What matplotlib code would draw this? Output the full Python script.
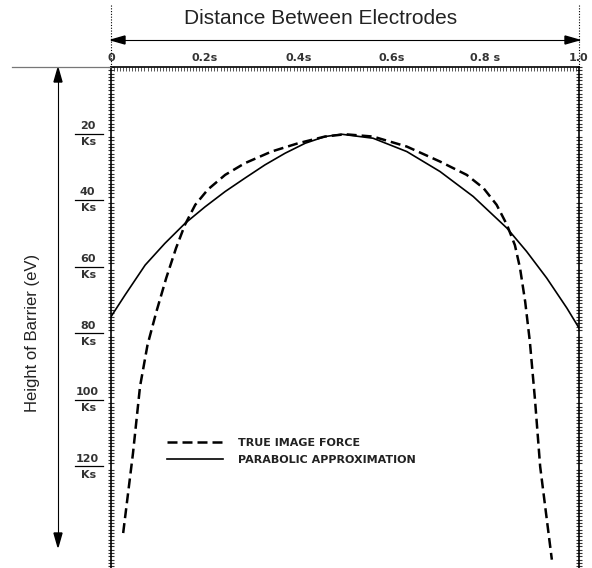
import matplotlib
matplotlib.use("Agg")
import matplotlib.pyplot as plt
from matplotlib.lines import Line2D
from matplotlib.ticker import MultipleLocator


# distance between electrodes (fraction of s) and barrier height (units of 1/Ks)
X_TRUE = [0.026, 0.047, 0.062, 0.078, 0.097, 0.118, 0.139, 0.158, 0.18,
          0.207, 0.244, 0.286, 0.343, 0.4, 0.457, 0.5, 0.56, 0.632,
          0.703, 0.76, 0.796, 0.824, 0.846, 0.863, 0.874, 0.885, 0.895,
          0.906, 0.917, 0.942]
V_TRUE = [140, 116, 96, 83.5, 73.5, 63.4, 54.4, 47.4, 41.4,
          36.8, 32.4, 28.9, 25.4, 22.9, 20.9, 20.2, 20.9, 23.9,
          28.4, 32.4, 36.4, 41.4, 47.4, 53.5, 60.4, 70.5, 82.5,
          100, 120, 148]

X_PARA = [0, 0.03, 0.073, 0.115, 0.158, 0.201, 0.244, 0.286, 0.329,
          0.372, 0.415, 0.457, 0.493, 0.56, 0.632, 0.703, 0.774, 0.846,
          0.888, 0.931, 0.974, 1.0]
V_PARA = [75, 68.5, 59.5, 53, 47, 42, 37.4, 33.4, 29.4,
          25.9, 22.9, 20.9, 20.2, 21.4, 25.4, 31.4, 38.9, 48.4,
          55.4, 63.4, 72.4, 78.4]

X_TICKS = [0, 0.2, 0.4, 0.6, 0.8, 1.0]
X_LABELS = ["0", "0.2s", "0.4s", "0.6s", "0.8 s", "1.0"]
Y_TICKS = [20, 40, 60, 80, 100, 120]

W, H = 592, 568


def fx(px):
    return px / W


def fy(py):
    return 1 - py / H


def main():
    fig = plt.figure(figsize=(W / 100, H / 100), dpi=100)
    ax = fig.add_axes([fx(111), 0, fx(579) - fx(111), fy(67)])
    ax.set_xlim(0, 1)
    ax.set_ylim(150.5, 0)

    ax.plot(X_TRUE, V_TRUE, color="black", lw=1.8, dashes=(4, 2),
            label="TRUE IMAGE FORCE")
    ax.plot(X_PARA, V_PARA, color="black", lw=1.2,
            label="PARABOLIC APPROXIMATION")

    # spines with hatched look
    ax.spines["bottom"].set_visible(False)
    for s in ("left", "right", "top"):
        ax.spines[s].set_linewidth(1.2)
    ax.xaxis.tick_top()
    ax.set_xticks(X_TICKS)
    ax.set_xticklabels(X_LABELS, fontsize=8, fontweight="bold", color="#333333")
    ax.xaxis.set_minor_locator(MultipleLocator(0.0065))
    ax.tick_params(axis="x", which="major", length=0, pad=3)
    ax.tick_params(axis="x", which="minor", direction="in", length=3,
                   width=0.7, color="#555555")
    ax.yaxis.set_ticks_position("both")
    ax.set_yticks(Y_TICKS)
    ax.set_yticklabels([])
    ax.yaxis.set_minor_locator(MultipleLocator(1.0))
    ax.tick_params(axis="y", which="major", length=0)
    ax.tick_params(axis="y", which="minor", direction="inout", length=4,
                   width=0.8, color="#333333")

    # fraction-style y labels
    tr = ax.get_yaxis_transform()
    for v in Y_TICKS:
        ax.plot([-0.077, -0.017], [v, v], color="black", lw=0.9,
                transform=tr, clip_on=False)
        ax.text(-0.05, v - 0.8, str(v), transform=tr, ha="center", va="bottom",
                fontsize=8, fontweight="bold", color="#333333")
        ax.text(-0.047, v + 1.0, "Ks", transform=tr, ha="center", va="top",
                fontsize=8, fontweight="bold", color="#333333")

    leg = ax.legend(loc="center left", bbox_to_anchor=(0.12, 0.232),
                    frameon=False, borderpad=0, borderaxespad=0,
                    handlelength=5, handletextpad=1.4, labelspacing=0.65,
                    prop={"size": 8, "weight": "bold"})
    for t in leg.get_texts():
        t.set_color("#222222")

    # decorations around the axes
    fig.add_artist(Line2D([fx(12), fx(111)], [fy(67), fy(67)], color="#777777",
                          lw=0.9))
    for px in (111, 579):
        fig.add_artist(Line2D([fx(px), fx(px)], [fy(5), fy(67)], color="black",
                              lw=0.8, ls=(0, (1, 1.5))))
    fig.add_artist(Line2D([fx(111), fx(579)], [fy(40), fy(40)], color="black",
                          lw=0.8))
    for x0, x1 in ((125, 111), (565, 579)):
        fig.patches.append(plt.Polygon(
            [(fx(x1), fy(40)), (fx(x0), fy(36)), (fx(x0), fy(44))],
            closed=True, color="black", transform=fig.transFigure))
    fig.add_artist(Line2D([fx(58), fx(58)], [fy(72), fy(543)], color="black",
                          lw=0.8))
    for y0, y1 in ((82, 68), (533, 547)):
        fig.patches.append(plt.Polygon(
            [(fx(58), fy(y1)), (fx(54), fy(y0)), (fx(62), fy(y0))],
            closed=True, color="black", transform=fig.transFigure))

    fig.text(fx(321), fy(18), "Distance Between Electrodes", ha="center",
             va="center", fontsize=15, family="Liberation Sans",
             color="#222222")
    fig.text(fx(33), fy(333), "Height of Barrier (eV)", ha="center",
             va="center", rotation=90, fontsize=12,
             family=["Liberation Sans Narrow", "Liberation Sans"],
             color="#222222")

    fig.savefig("out.png", dpi=100)


if __name__ == "__main__":
    main()
